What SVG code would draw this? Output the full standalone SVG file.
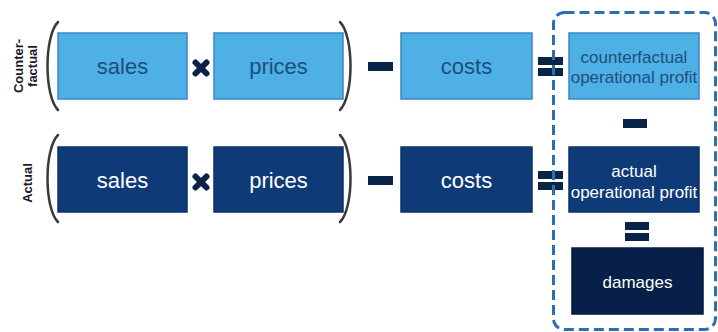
<svg xmlns="http://www.w3.org/2000/svg" width="718" height="332" viewBox="0 0 718 332">
<style>
.light{fill:#4eb0e4;stroke:#3a88c4;stroke-width:1.5}
.dark{fill:#0f3a78;stroke:#0c3268;stroke-width:1.5}
.darkest{fill:#07204a;stroke:#061a3d;stroke-width:1.5}
.big{font-family:"Liberation Sans",Arial,sans-serif;font-size:22px;text-anchor:middle}
.small{font-family:"Liberation Sans",Arial,sans-serif;font-size:17px;text-anchor:middle}
.side{font-family:"Liberation Sans",Arial,sans-serif;font-size:13px;font-weight:bold;text-anchor:middle;fill:#1a1a2a}
.tl{fill:#1d4f80}
.tw{fill:#ffffff}
.op{fill:#0a2447}
.paren{fill:none;stroke:#3a3a3a;stroke-width:2.5;stroke-linecap:round}
.x{stroke:#0a2447;stroke-width:6;stroke-linecap:round}
</style>
<rect width="718" height="332" fill="#ffffff"/>
<g id="labels">
<text class="side" transform="translate(23,66) rotate(-90)">Counter-</text>
<text class="side" transform="translate(37,66) rotate(-90)">factual</text>
<text class="side" transform="translate(32,183) rotate(-90)">Actual</text>
</g>
<g id="cf-sales"><rect class="light" x="58" y="33" width="129" height="66"/><text class="big tl" x="122.5" y="74">sales</text></g>
<g id="cf-prices"><rect class="light" x="214" y="33" width="129" height="66"/><text class="big tl" x="278.5" y="74">prices</text></g>
<g id="cf-costs"><rect class="light" x="401" y="33" width="131" height="66"/><text class="big tl" x="466.5" y="74">costs</text></g>
<g id="cf-profit"><rect class="light" x="569" y="33" width="130" height="66"/><text class="small tl" x="634" y="63">counterfactual</text><text class="small tl" x="634" y="83">operational profit</text></g>
<g id="a-sales"><rect class="dark" x="58" y="147" width="129" height="65"/><text class="big tw" x="122.5" y="188">sales</text></g>
<g id="a-prices"><rect class="dark" x="214" y="147" width="129" height="65"/><text class="big tw" x="278.5" y="188">prices</text></g>
<g id="a-costs"><rect class="dark" x="401" y="147" width="131" height="65"/><text class="big tw" x="466.5" y="188">costs</text></g>
<g id="a-profit"><rect class="dark" x="569" y="147" width="130" height="65"/><text class="small tw" x="634" y="177">actual</text><text class="small tw" x="634" y="198">operational profit</text></g>
<g id="damages"><rect class="darkest" x="572" y="248" width="131" height="66"/><text class="small tw" x="637.5" y="288">damages</text></g>
<g id="connectors">
<path class="paren" d="M58,22 C44,36 44,96 58,110"/>
<path class="paren" d="M340,22 C354,36 354,96 340,110"/>
<path class="paren" d="M58,135 C44,149 44,208 58,222"/>
<path class="paren" d="M340,135 C354,149 354,208 340,222"/>
<line class="x" x1="195.5" y1="62.5" x2="206.5" y2="73.5"/><line class="x" x1="206.5" y1="62.5" x2="195.5" y2="73.5"/>
<line class="x" x1="195.5" y1="176.5" x2="206.5" y2="187.5"/><line class="x" x1="206.5" y1="176.5" x2="195.5" y2="187.5"/>
<rect class="op" x="368" y="62" width="25" height="9"/>
<rect class="op" x="368" y="176" width="25" height="9"/>
<rect class="op" x="538" y="57" width="25" height="8"/><rect class="op" x="538" y="68" width="25" height="8"/>
<rect class="op" x="538" y="171" width="25" height="8"/><rect class="op" x="538" y="182" width="25" height="8"/>
<rect class="op" x="623" y="119" width="24" height="9"/>
<rect class="op" x="625" y="222" width="24" height="8"/><rect class="op" x="625" y="233" width="24" height="8"/>
</g>
<g id="group-box"><rect x="553.5" y="12.5" width="162" height="317" rx="11" fill="none" stroke="#2d6fae" stroke-width="3" stroke-dasharray="10,5"/></g>
</svg>
